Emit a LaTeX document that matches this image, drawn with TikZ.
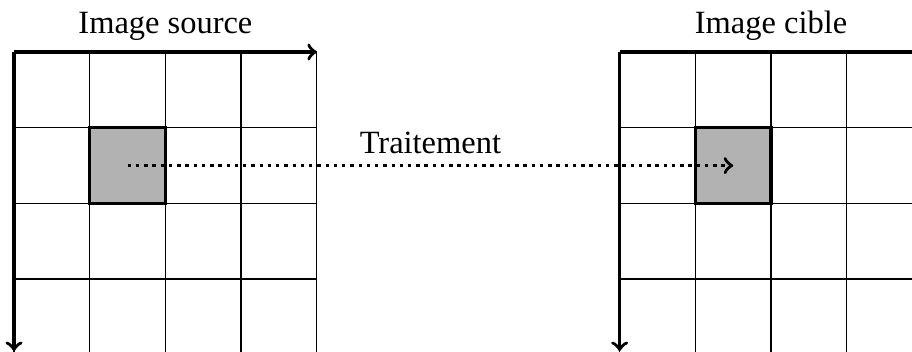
\documentclass[tikz,border=0pt]{standalone}
\usepackage{fontspec}
\setmainfont{Liberation Serif}
\begin{document}
\begin{tikzpicture}[
  gridline/.style={line width=0.5pt},
  axis/.style={line width=1.3pt,->},
  cellbox/.style={fill=black!30,draw,line width=1.2pt},
  lbl/.style={font=\fontsize{12.2}{14}\selectfont,anchor=base,inner sep=0pt},
  flow/.style={line width=1.3pt,dash pattern=on 1.3pt off 1.8pt,->}
]
\useasboundingbox (-0.185,0.687) rectangle (11.862,-3.95);
\clip (-0.185,0.687) rectangle (11.862,-3.95);
% left grid
\fill[black!30] (1,-1) rectangle (2,-2);
\draw[gridline] (0,-4.2) grid (4,0);
\draw[cellbox] (1,-1) rectangle (2,-2);
\draw[axis] (0,0) -- (4,0);
\draw[axis] (0,0) -- (0,-3.95);
\node[lbl] (srclbl) at (2,0.238) {Image source};
% right grid
\draw[gridline] (8,-4.2) grid (12.2,0);
\draw[cellbox] (9,-1) rectangle (10,-2);
\draw[axis] (8,0) -- (12,0);
\draw[axis] (8,0) -- (8,-3.95);
\node[lbl] (tgtlbl) at (10,0.238) {Image cible};
% arrow
\coordinate (src) at (1.5,-1.5);
\coordinate (tgt) at (9.5,-1.5);
\draw[flow] (src) -- (tgt) node[midway,lbl,above=0.16cm,anchor=base] (trt) {Traitement};
\end{tikzpicture}
\end{document}
